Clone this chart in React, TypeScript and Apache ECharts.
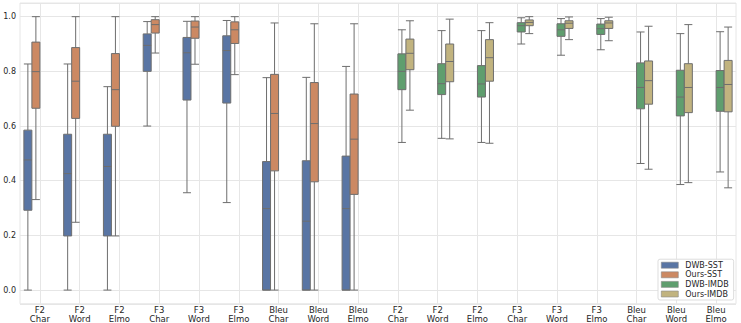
import React, { useEffect, useRef } from 'react';
import * as echarts from 'echarts';

const sstCategories = ['F2\nChar', 'F2\nWord', 'F2\nElmo', 'F3\nChar', 'F3\nWord', 'F3\nElmo', 'Bleu\nChar', 'Bleu\nWord', 'Bleu\nElmo'];
const imdbCategories = ['F2\nChar', 'F2\nWord', 'F2\nElmo', 'F3\nChar', 'F3\nWord', 'F3\nElmo', 'Bleu\nChar', 'Bleu\nWord', 'Bleu\nElmo'];
const categories = [...sstCategories, ...imdbCategories];

const yTicks = [0, 0.2, 0.4, 0.6, 0.8, 1.0];

// [min, Q1, median, Q3, max]
const dwbSST = [
  [0.0, 0.292, 0.476, 0.585, 0.827],
  [0.0, 0.198, 0.426, 0.570, 0.827],
  [0.0, 0.198, 0.452, 0.570, 0.744],
  [0.600, 0.800, 0.895, 0.937, 0.982],
  [0.356, 0.695, 0.868, 0.924, 0.983],
  [0.320, 0.684, 0.876, 0.930, 0.986],
  [0.0, 0.0, 0.298, 0.470, 0.777],
  [0.0, 0.0, 0.252, 0.473, 0.778],
  [0.0, 0.0, 0.298, 0.490, 0.818],
];

const oursSST = [
  [0.331, 0.665, 0.799, 0.907, 1.0],
  [0.248, 0.628, 0.764, 0.887, 1.0],
  [0.198, 0.599, 0.733, 0.865, 1.0],
  [0.867, 0.940, 0.971, 0.989, 1.0],
  [0.826, 0.921, 0.962, 0.984, 1.0],
  [0.788, 0.902, 0.952, 0.981, 1.0],
  [0.0, 0.436, 0.646, 0.789, 0.977],
  [0.0, 0.396, 0.609, 0.759, 0.974],
  [0.0, 0.350, 0.552, 0.717, 0.974],
];

const dwbIMDB = [
  [0.540, 0.733, 0.800, 0.864, 0.952],
  [0.555, 0.715, 0.755, 0.828, 0.949],
  [0.540, 0.706, 0.754, 0.821, 0.949],
  [0.900, 0.944, 0.967, 0.978, 0.996],
  [0.859, 0.928, 0.952, 0.974, 0.993],
  [0.879, 0.935, 0.956, 0.973, 0.993],
  [0.463, 0.663, 0.741, 0.831, 0.944],
  [0.386, 0.637, 0.706, 0.804, 0.938],
  [0.432, 0.654, 0.741, 0.803, 0.945],
];

const oursIMDB = [
  [0.658, 0.806, 0.866, 0.918, 0.985],
  [0.553, 0.762, 0.836, 0.900, 0.991],
  [0.537, 0.764, 0.850, 0.916, 0.978],
  [0.938, 0.967, 0.979, 0.988, 1.0],
  [0.916, 0.957, 0.976, 0.985, 0.999],
  [0.912, 0.957, 0.977, 0.985, 0.998],
  [0.442, 0.680, 0.766, 0.838, 0.965],
  [0.393, 0.649, 0.741, 0.828, 0.971],
  [0.374, 0.652, 0.752, 0.840, 0.962],
];

const seriesNames = ['DWB-SST', 'Ours-SST', 'DWB-IMDB', 'Ours-IMDB'];
const seriesColors = ['#5975a4', '#cc8963', '#5f9e6e', '#c1b37f'];

const empty = () => ['-', '-', '-', '-', '-'];
const padAfter = (arr: any[]) => [...arr, ...sstCategories.map(empty)];
const padBefore = (arr: any[]) => [...sstCategories.map(empty), ...arr];

export default function App() {
  const ref = useRef<HTMLDivElement>(null);
  useEffect(() => {
    if (!ref.current) return;
    const chart = echarts.init(ref.current, null, { renderer: 'svg' });
    const datas = [padAfter(dwbSST), padAfter(oursSST), padBefore(dwbIMDB), padBefore(oursIMDB)];
    chart.setOption({
      animation: false,
      backgroundColor: '#ffffff',
      textStyle: { fontFamily: 'DejaVu Sans' },
      grid: {
        left: 20,
        right: 5,
        top: 3,
        bottom: 19,
        show: true,
        borderColor: '#e6e6e6',
        borderWidth: 1,
        backgroundColor: '#ffffff',
      },
      legend: {
        orient: 'vertical',
        left: 658,
        bottom: 23,
        data: seriesNames.map((name, i) => ({
          name,
          icon: 'rect',
          itemStyle: { color: seriesColors[i], borderColor: '#8a8a8a', borderWidth: 0.6 },
        })),
        itemWidth: 17,
        itemHeight: 6,
        itemGap: 1.6,
        padding: [2, 5, 2, 3],
        backgroundColor: '#ffffff',
        borderColor: '#dddddd',
        borderWidth: 1,
        borderRadius: 2,
        textStyle: { fontSize: 8, color: '#262626', fontFamily: 'DejaVu Sans', padding: [0, 0, 0, 2] },
      },
      xAxis: {
        type: 'category',
        data: categories,
        boundaryGap: true,
        axisLine: { show: false },
        axisTick: { show: false },
        axisLabel: {
          fontSize: 8.5,
          color: '#262626',
          margin: 2,
          lineHeight: 8.5,
          interval: 0,
          fontFamily: 'DejaVu Sans',
        },
        splitLine: { show: true, alignWithLabel: true, lineStyle: { color: '#e6e6e6', width: 1 } },
      },
      yAxis: {
        type: 'value',
        min: -0.05,
        max: 1.05,
        splitNumber: 5,
        axisLine: { show: false },
        axisTick: { show: false },
        axisLabel: {
          fontSize: 8,
          color: '#262626',
          margin: 4,
          fontFamily: 'DejaVu Sans',
          formatter: (v: number) => {
            const t = yTicks.find((k) => Math.abs(k - v) < 1e-6);
            return t === undefined ? '' : t.toFixed(1);
          },
        },
        splitLine: { show: true, lineStyle: { color: '#e6e6e6', width: 1 } },
      },
      series: seriesNames.map((name, i) => ({
        name,
        type: 'boxplot',
        data: datas[i],
        boxWidth: [8, 8],
        itemStyle: { color: seriesColors[i], borderColor: '#6e6e6e', borderWidth: 1 },
        emphasis: { disabled: true },
      })),
    });
    return () => chart.dispose();
  }, []);
  return <div ref={ref} style={{ position: 'absolute', left: 0, top: 0, width: 741, height: 323 }} />;
}
